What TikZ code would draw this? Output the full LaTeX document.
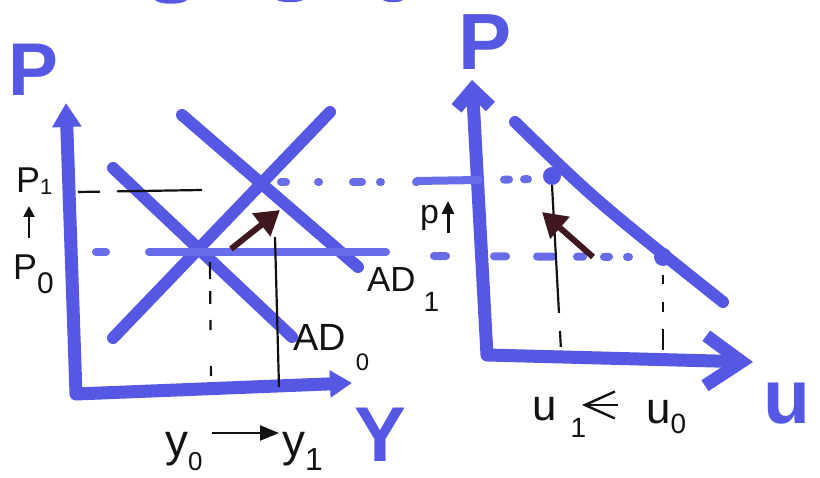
\documentclass[tikz,border=0pt]{standalone}
\usepackage{fontspec}
\setmainfont{Liberation Sans}
\usetikzlibrary{arrows.meta}
\definecolor{mk}{RGB}{86,88,228}
\definecolor{mkl}{RGB}{104,108,232}
\definecolor{brn}{RGB}{62,24,30}
\definecolor{ink}{RGB}{18,18,18}
\newcommand\hsub[3]{\raisebox{-#1bp}{\fontsize{#2}{#2}\selectfont #3}}
\tikzset{
  curve/.style={draw=mk, line width=12bp, line cap=round},
  axisline/.style={draw=mk, line width=13bp, line cap=round, line join=round},
  bdash/.style={draw=mkl, line width=8bp, line cap=round},
  thinline/.style={draw=ink, line width=2.2bp},
  brownarrow/.style={draw=brn, fill=brn, line width=6bp, -{Triangle[width=28bp,length=24bp]}},
  inkarrow/.style={draw=ink, line width=2.4bp},
  dot/.style={circle, fill=mk, inner sep=0pt, minimum size=18bp},
  hw/.style={inner sep=0pt, anchor=base west, text=ink},
  big/.style={inner sep=0pt, text=mk, font=\bfseries\fontsize{78}{78}\selectfont},
}
\begin{document}
\begin{tikzpicture}[x=1bp,y=-1bp]
\useasboundingbox (0,0) rectangle (820,478);

% cut-off strokes at the top edge
\fill[mk] (155,0) .. controls (160,5) and (182,5) .. (187,0) -- cycle;
\fill[mk] (277,0) .. controls (282,3) and (298,3) .. (303,0) -- cycle;
\fill[mk] (383,0) .. controls (387,3) and (399,3) .. (403,0) -- cycle;

% ---------- left panel ----------
\coordinate (LYt) at (66,103);
\coordinate (LO) at (76,394);
\coordinate (LXr) at (352,383);
\draw[axisline, {Triangle[width=28bp,length=24bp]}-{Triangle[width=26bp,length=22bp]}]
  (LYt) -- (LO) -- (LXr);

\coordinate (ASa) at (113,338); \coordinate (ASb) at (330,112);
\coordinate (D0a) at (113,168); \coordinate (D0b) at (292,337);
\coordinate (D1a) at (182,115); \coordinate (D1b) at (358,267);
\draw[curve] (ASa) -- (ASb);
\draw[curve] (D0a) -- (D0b);
\draw[curve] (D1a) -- (D1b);

% price level guides
\coordinate (LP0a) at (96,252); \coordinate (LP0b) at (386,252);
\draw[bdash, dash pattern=on 10bp off 43bp on 400bp] (LP0a) -- (LP0b);
\coordinate (LP1a) at (281,182); \coordinate (LP1b) at (417,182);
\draw[bdash, dash pattern=on 5bp off 32bp on 1bp off 34bp on 9bp off 18bp on 1bp off 35bp on 1bp off 50bp] (LP1a) -- (LP1b);
\coordinate (BP1a) at (78,192); \coordinate (BP1b) at (202,190);
\draw[thinline, dash pattern=on 22bp off 17bp on 100bp] (BP1a) -- (BP1b);

% output guides
\coordinate (Y0t) at (210,262); \coordinate (Y0b) at (211,382);
\draw[thinline, dash pattern=on 17bp off 12bp on 13bp off 16bp on 10bp off 36bp on 10bp] (Y0t) -- (Y0b);
\coordinate (Y1t) at (275,237); \coordinate (Y1b) at (279,387);
\draw[thinline] (Y1t) -- (Y1b);

% shift arrow
\coordinate (LAa) at (231,249); \coordinate (LAb) at (280,210);
\draw[brownarrow] (LAa) -- (LAb);

% labels
\node[big, font=\bfseries\fontsize{75}{75}\selectfont] (Pleft) at (33,70) {P};
\node[big, font=\bfseries\fontsize{78}{78}\selectfont] (Ylab) at (380,435) {Y};
\node[hw, font=\fontsize{36}{36}\selectfont] (P1) at (16,193) {P\hsub{2}{22}{1}};
\node[hw, font=\fontsize{36}{36}\selectfont] (P0) at (13,280) {P\hsub{14}{30}{0}};
\coordinate (P0t) at (29,238); \coordinate (P1b) at (29,206);
\draw[inkarrow, -{Triangle[width=11bp,length=11bp]}] (P0t) -- (P1b);
\node[hw, font=\fontsize{35}{35}\selectfont] (AD1) at (367,292) {AD\hspace{8bp}\hsub{20}{28}{1}};
\node[hw, font=\fontsize{38}{38}\selectfont] (AD0) at (293,350) {AD\hspace{10bp}\hsub{20}{24}{0}};
\node[hw, font=\fontsize{46}{46}\selectfont] (y0) at (165,456) {y\hsub{14}{26}{0}};
\node[hw, font=\fontsize{46}{46}\selectfont] (y1) at (282,456) {y\hsub{14}{32}{1}};
\coordinate (YAa) at (212,433); \coordinate (YAb) at (279,433);
\draw[inkarrow, -{Triangle[width=15bp,length=19bp]}] (YAa) -- (YAb);

% ---------- right panel ----------
\coordinate (RYt) at (472,80);
\coordinate (RO) at (487,355);
\coordinate (RXr) at (753,362);
\draw[axisline, {Straight Barb[width=34bp,length=18bp]}-{Straight Barb[width=50bp,length=36bp]}]
  (RYt) -- (RO) -- (RXr);

\coordinate (PCa) at (515,122); \coordinate (PCc) at (595,200); \coordinate (PCb) at (723,302);
\draw[curve] (PCa) .. controls (PCc) .. (PCb);

\coordinate (RP1a) at (417,181); \coordinate (RP1b) at (540,179);
\draw[bdash, dash pattern=on 62bp off 25bp on 5bp off 15bp on 4bp off 100bp] (RP1a) -- (RP1b);
\coordinate (RP0a) at (434,256); \coordinate (RP0b) at (640,257);
\draw[bdash, dash pattern=on 12bp off 48bp on 12bp off 31bp on 16bp off 24bp on 6bp off 21bp on 5bp off 18bp on 2bp off 50bp] (RP0a) -- (RP0b);

\node[dot] (E1) at (552,176) {};
\node[dot] (E0) at (663,257) {};

\coordinate (U1b) at (561,350);
\draw[thinline, dash pattern=on 128bp off 18bp on 16bp] (E1.south) -- (U1b);
\coordinate (U0b) at (663,350);
\draw[thinline, dash pattern=on 0bp off 18bp on 9bp off 18bp on 10bp off 17bp on 13bp] (E0.center) -- (U0b);

\coordinate (RAa) at (593,257); \coordinate (RAb) at (542,212);
\draw[brownarrow] (RAa) -- (RAb);

\node[big, font=\bfseries\fontsize{80}{80}\selectfont] (Pright) at (485,42) {P};
\node[hw, text=mk, font=\bfseries\fontsize{77}{77}\selectfont] (ulab) at (763,423) {u};
\node[hw, font=\fontsize{34}{34}\selectfont] (plab) at (420,224) {p};
\coordinate (PUa) at (448,233); \coordinate (PUb) at (448,201);
\draw[inkarrow, line width=3bp, -{Triangle[width=12bp,length=13bp]}] (PUa) -- (PUb);

\node[hw, font=\fontsize{44}{44}\selectfont] (u1) at (532,420) {u\hspace{14bp}\hsub{17}{28}{1}};
\node[hw, font=\fontsize{44}{44}\selectfont] (u0) at (646,423) {u\hsub{10}{28}{0}};
\coordinate (UAa) at (618,405); \coordinate (UAb) at (582,405);
\draw[inkarrow, -{Straight Barb[width=27bp,length=30bp]}] (UAa) -- (UAb);
\end{tikzpicture}
\end{document}
